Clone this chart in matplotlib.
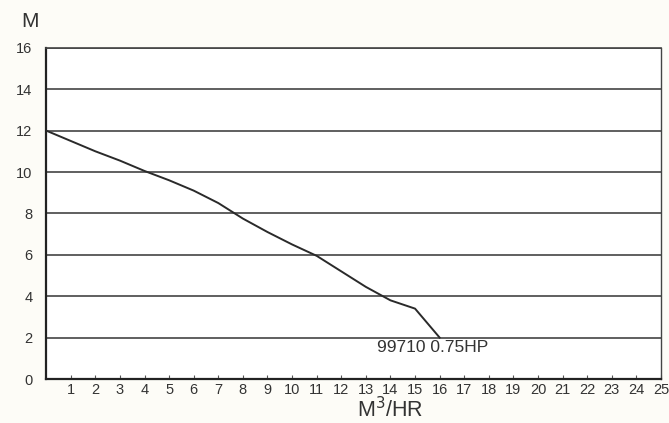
import matplotlib
matplotlib.use('Agg')
import matplotlib.pyplot as plt

# pump curve
flow = [0, 2, 3, 4, 5, 6, 7, 8, 9, 10, 11, 12, 13, 14, 15, 16]
head = [12, 11.0, 10.55, 10.05, 9.6, 9.1, 8.5, 7.75, 7.1, 6.5, 5.95, 5.2, 4.45, 3.8, 3.4, 2.0]
x_ticks = list(range(1, 26))
y_ticks = [0, 2, 4, 6, 8, 10, 12, 14, 16]
label = "99710 0.75HP"

plt.rcParams['font.family'] = ['Liberation Sans', 'DejaVu Sans']

bg = '#fdfcf7'
fig = plt.figure(figsize=(6.69, 4.23), dpi=100, facecolor=bg)
ax = fig.add_axes([0.069, 0.104, 0.919, 0.783], facecolor='white')

ax.set_xlim(0, 25)
ax.set_ylim(0, 16)

for y in y_ticks[1:]:
    ax.axhline(y, color='#444444', lw=1.2, zorder=1)

ax.plot(flow, head, color='#2a2a2a', lw=1.4, zorder=3)
ax.text(13.45, 1.5, label, fontsize=12.5, color='#333333', va='center', ha='left')

ax.set_xticks(x_ticks)
ax.set_yticks(y_ticks)
ax.tick_params(axis='x', direction='in', length=3, width=0.8, colors='#555555',
               labelsize=10.5, labelcolor='#333333', pad=3)
ax.tick_params(axis='y', length=0, labelsize=10.5, labelcolor='#333333', pad=10)

for s in ['left', 'bottom']:
    ax.spines[s].set_linewidth(1.6)
    ax.spines[s].set_color('#222222')
ax.spines['top'].set_linewidth(1.2)
ax.spines['top'].set_color('#444444')
ax.spines['right'].set_linewidth(1.0)
ax.spines['right'].set_color('#444444')

fig.text(0.032, 0.95, 'M', fontsize=15, color='#333333', ha='left', va='center')
fig.text(0.583, 0.003, 'M$^3$/HR', fontsize=15.5, color='#333333', ha='center', va='bottom')

fig.savefig('out.png', dpi=100, facecolor=bg)
